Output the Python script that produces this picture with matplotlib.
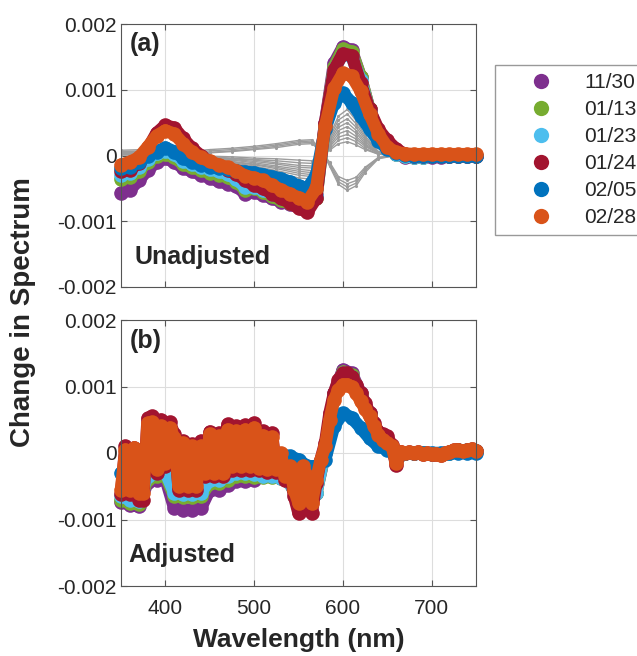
import numpy as np
import matplotlib
matplotlib.use("Agg")
import matplotlib.pyplot as plt
from matplotlib.lines import Line2D

plt.rcParams['font.family'] = ['Liberation Sans', 'DejaVu Sans']

# ---------------- data (values in units of 1e-4) ----------------
labels = ["11/30", "01/13", "01/23", "01/24", "02/05", "02/28"]
colors = ["#7E2F8E", "#77AC30", "#4DBEEE", "#A2142F", "#0072BD", "#D95319"]

# Panel (a) : 10-nm grid 350..750
wl_a = np.arange(350, 751, 10)
a_1130 = [-5.7, -5.2, -3.8, -2.2, -1.0, -0.4, -1.0, -1.9, -2.4, -2.9, -3.4, -3.9, -4.3, -4.7, -5.8, -5.6,
          -6.0, -6.5, -7.0, -7.4, -7.8, -8.0, -6.0, 5.0, 14.0, 16.5, 16.0, 12.0, 7.0, 3.5, 1.5, 0.3,
          -0.2, -0.3, -0.3, -0.2, -0.2, -0.1, -0.1, 0.0, 0.0]
a_0113 = [-3.6, -3.3, -2.3, -1.0, 0.0, 0.2, -0.3, -1.3, -1.8, -2.2, -2.6, -2.9, -3.3, -4.0, -5.2, -5.0,
          -5.5, -6.2, -6.8, -7.3, -7.6, -7.8, -6.5, 4.5, 13.5, 16.2, 15.8, 12.0, 7.0, 3.5, 1.5, 0.3,
          -0.1, -0.2, -0.2, -0.1, -0.1, 0.0, 0.0, 0.0, 0.0]
a_0123 = [-2.9, -2.6, -1.7, -0.5, 0.4, 0.7, 0.2, -0.8, -1.3, -1.7, -2.1, -2.4, -2.8, -3.6, -4.8, -4.8,
          -5.2, -5.8, -6.4, -6.9, -7.2, -7.4, -6.2, 4.5, 13.0, 15.5, 15.0, 11.5, 6.8, 3.4, 1.5, 0.3,
          -0.1, -0.2, -0.2, -0.1, -0.1, 0.0, 0.0, 0.0, 0.0]
a_0124 = [-2.4, -2.2, -1.1, 1.0, 3.4, 4.6, 4.2, 2.6, 1.1, 0.0, -1.0, -1.6, -2.2, -2.8, -3.8, -4.5,
          -5.0, -5.8, -6.5, -7.2, -8.0, -8.6, -6.5, 5.0, 13.0, 15.5, 15.2, 11.0, 7.0, 4.0, 2.3, 1.0,
          0.2, 0.0, 0.0, 0.0, 0.0, 0.0, 0.0, 0.0, 0.0]
a_0205 = [-1.9, -1.7, -1.0, 0.0, 0.6, 1.2, 0.6, -0.4, -1.0, -1.4, -1.7, -1.9, -2.1, -2.3, -2.5, -2.6,
          -2.9, -3.2, -3.5, -4.0, -4.6, -5.0, -3.0, 4.0, 8.0, 9.5, 8.0, 6.0, 4.0, 2.2, 1.0, 0.4,
          0.1, 0.0, 0.0, 0.0, 0.0, 0.0, 0.0, 0.0, 0.0]
a_0228 = [-1.4, -1.0, -0.3, 1.3, 3.0, 3.8, 3.3, 1.8, 0.5, -0.3, -0.9, -1.4, -1.8, -2.3, -3.1, -3.4,
          -3.8, -4.5, -5.2, -5.8, -6.4, -7.0, -5.0, 4.5, 10.2, 12.5, 12.1, 9.8, 6.3, 3.3, 1.3, 0.5,
          0.3, 0.2, 0.2, 0.2, 0.2, 0.2, 0.2, 0.2, 0.2]
series_a = [a_1130, a_0113, a_0123, a_0124, a_0205, a_0228]

# Grey background spectra in panel (a)
wl_g = [350, 375, 400, 425, 450, 475, 500, 525, 550, 565, 575, 585, 595, 605, 615, 625, 640, 660, 700, 750]
g1 = [0.8, 0.9, -0.4, 0.6, 0.9, 1.1, 1.4, 1.8, 2.3, 2.4, 1.0, -1.6, -4.4, -5.3, -4.6, -2.6, -0.5, 0.0, 0.0, 0.0]
g2 = [0.6, 0.7, -0.5, 0.4, 0.7, 0.9, 1.2, 1.6, 2.1, 2.2, 0.9, -1.4, -4.0, -4.8, -4.2, -2.3, -0.4, 0.0, 0.0, 0.0]
g3 = [0.5, 0.6, -0.6, 0.3, 0.5, 0.7, 1.0, 1.4, 1.9, 2.0, 0.8, -1.2, -3.6, -4.3, -3.8, -2.0, -0.3, 0.0, 0.0, 0.0]
g4 = [0.4, 0.5, -0.7, 0.2, 0.4, 0.6, 0.9, 1.2, 1.7, 1.8, 0.7, -1.0, -3.2, -3.8, -3.3, -1.8, -0.3, 0.0, 0.0, 0.0]
h1 = [0.4, 0.3, -1.2, -0.6, -0.8, -1.2, -1.8, -2.6, -3.4, -3.6, -1.0, 3.0, 6.0, 7.0, 5.3, 3.0, 0.6, 0.0, 0.0, 0.0]
h2 = [0.4, 0.3, -1.1, -0.5, -0.7, -1.1, -1.6, -2.3, -3.0, -3.2, -0.8, 2.7, 5.4, 6.3, 4.8, 2.7, 0.5, 0.0, 0.0, 0.0]
h3 = [0.3, 0.2, -1.0, -0.5, -0.6, -1.0, -1.4, -2.0, -2.7, -2.9, -0.7, 2.4, 4.8, 5.6, 4.3, 2.4, 0.5, 0.0, 0.0, 0.0]
h4 = [0.3, 0.2, -0.9, -0.4, -0.5, -0.9, -1.3, -1.8, -2.4, -2.6, -0.6, 2.1, 4.3, 5.0, 3.8, 2.1, 0.4, 0.0, 0.0, 0.0]
h5 = [0.3, 0.2, -0.8, -0.4, -0.4, -0.7, -1.1, -1.6, -2.1, -2.3, -0.5, 1.8, 3.8, 4.4, 3.4, 1.8, 0.4, 0.0, 0.0, 0.0]
h6 = [0.2, 0.1, -0.7, -0.3, -0.3, -0.6, -0.9, -1.3, -1.8, -1.9, -0.4, 1.5, 3.3, 3.8, 2.9, 1.6, 0.3, 0.0, 0.0, 0.0]
h7 = [0.2, 0.1, -0.6, -0.3, -0.3, -0.5, -0.7, -1.1, -1.5, -1.6, -0.3, 1.3, 2.8, 3.2, 2.5, 1.4, 0.3, 0.0, 0.0, 0.0]
h8 = [0.1, 0.1, -0.5, -0.2, -0.2, -0.4, -0.6, -0.8, -1.1, -1.2, -0.2, 1.0, 2.3, 2.7, 2.1, 1.1, 0.2, 0.0, 0.0, 0.0]
h9 = [0.1, 0.0, -0.4, -0.2, -0.1, -0.2, -0.4, -0.5, -0.7, -0.8, -0.1, 0.8, 1.8, 2.1, 1.6, 0.9, 0.2, 0.0, 0.0, 0.0]
grey_lines = [g1, g2, g3, g4, h1, h2, h3, h4, h5, h6, h7, h8, h9]

# Panel (b)
wl_b10 = np.arange(350, 751, 10)
wl_b5 = np.arange(350, 751, 5)
b_1130 = [-7.3, -7.8, -8.0, -4.4, -4.0, -3.8, -8.3, -8.5, -8.5, -8.3, -5.5, -5.5, -4.8, -4.2, -4.2, -4.0,
          -3.4, -3.4, -3.8, -4.5, -7.0, -5.0, -6.0, 0.0, 9.0, 12.5, 12.0, 9.0, 6.0, 3.0, 1.8, -1.0,
          0.0, 0.0, 0.0, -0.2, -0.2, 0.0, 0.4, 0.4, 0.3]
b_0113 = [-7.0, -7.5, -7.7, -3.9, -3.5, -3.3, -6.5, -6.6, -6.6, -6.5, -4.5, -4.5, -4.0, -3.5, -3.5, -3.6,
          -3.6, -3.6, -3.8, -4.5, -7.0, -5.0, -6.0, 0.2, 8.8, 12.2, 11.7, 8.8, 5.8, 3.0, 1.8, -1.0,
          0.0, 0.0, 0.0, -0.2, -0.2, 0.0, 0.4, 0.4, 0.3]
b_0123 = [-6.5, -7.0, -7.2, -3.4, -3.0, -2.8, -6.0, -6.1, -6.1, -6.0, -4.0, -4.0, -3.5, -3.0, -3.0, -3.2,
          -3.4, -3.4, -3.8, -4.5, -7.0, -5.0, -6.0, 0.3, 8.6, 12.0, 11.5, 8.6, 5.7, 2.9, 1.7, -1.0,
          0.0, 0.0, 0.0, -0.2, -0.2, 0.0, 0.4, 0.4, 0.3]
b_0205 = [-3.0, -3.5, -4.5, 1.5, 1.0, 0.0, 0.0, -1.5, -1.5, -1.0, -0.5, 0.0, 0.0, 0.0, -0.5, -0.5,
          -0.5, -0.2, -0.2, -0.5, -1.0, -2.0, -2.0, -1.0, 4.0, 6.0, 5.3, 3.8, 2.2, 1.0, 0.5, 0.0,
          0.0, 0.0, 0.0, 0.0, 0.0, 0.0, 0.0, 0.0, 0.0]
b_0124 = [-6.2, 1.0, -6.2, 0.8, -7.0, -7.0, 5.2, 5.5, -3.0, 5.0, -2.0, 4.6, 2.8, -5.5, 1.8, -5.5,
          1.3, -5.5, 1.8, -3.5, 3.2, -3.5, 3.0, -3.5, 4.3, -2.5, 4.0, -2.5, 4.2, -2.5, 4.5, -2.6,
          3.3, -2.8, 3.0, -2.8, -0.5, -4.0, -2.5, -6.5, -9.0, -2.5, -4.0, -9.0, -4.5, -1.0, 1.5, 6.0,
          9.0, 11.0, 12.0, 12.0, 11.5, 10.2, 9.0, 7.5, 6.0, 4.5, 3.2, 2.8, 2.5, 1.2, -1.8, 0.2,
          0.0, 0.1, 0.0, 0.1, -0.1, 0.0, -0.2, -0.1, -0.3, 0.0, 0.2, 0.4, 0.5, 0.3, 0.4, 0.6, 0.3]
b_0228 = [-5.5, 0.5, -5.5, 0.8, -6.0, -6.0, 4.5, 4.6, -2.4, 4.0, -1.5, 3.8, 2.3, -5.0, 1.5, -5.0,
          1.0, -5.0, 1.0, -3.0, 2.8, -3.0, 2.5, -3.0, 3.5, -2.0, 3.3, -2.0, 3.5, -2.0, 3.8, -2.2,
          2.6, -2.4, 2.4, -2.4, 0.0, -3.5, -2.0, -5.5, -7.5, -2.0, -3.5, -7.5, -4.0, -1.0, 1.0, 5.0,
          8.0, 9.5, 10.3, 10.3, 10.0, 9.0, 7.8, 6.6, 5.5, 4.0, 2.7, 2.0, 1.5, 1.0, -1.5, 0.2,
          0.0, 0.1, 0.0, 0.1, -0.1, 0.0, -0.2, -0.1, -0.3, 0.0, 0.2, 0.4, 0.5, 0.3, 0.4, 0.6, 0.3]
series_b = [(wl_b10, b_1130), (wl_b10, b_0113), (wl_b10, b_0123),
            (wl_b5, b_0124), (wl_b10, b_0205), (wl_b5, b_0228)]

yticks = [-0.002, -0.001, 0, 0.001, 0.002]
ytick_labels = ["-0.002", "-0.001", "0", "0.001", "0.002"]
xticks = [400, 500, 600, 700]
SCALE = 1e-4

# ---------------- figure ----------------
W, H = 637, 656
fig = plt.figure(figsize=(W / 100, H / 100), dpi=100)

def fx(px):
    return px / W

def fy(py):
    return 1 - py / H

ax_a = fig.add_axes([fx(121), fy(287), fx(476) - fx(121), fy(24) - fy(287)])
ax_b = fig.add_axes([fx(121), fy(586), fx(476) - fx(121), fy(320) - fy(586)])

MS = 10.5
LW = 9

for gl in grey_lines:
    ax_a.plot(wl_g, np.array(gl) * SCALE, color="#9c9c9c", lw=1.0, marker='.', ms=2.5, zorder=2)

for i, (vals, c) in enumerate(zip(series_a, colors)):
    ax_a.plot(wl_a, np.array(vals) * SCALE, color=c, lw=LW, marker='o', ms=MS, mew=0,
              solid_capstyle='round', solid_joinstyle='round', clip_on=False, zorder=3 + i)

for i, ((wl, vals), c) in enumerate(zip(series_b, colors)):
    ax_b.plot(wl, np.array(vals) * SCALE, color=c, lw=LW, marker='o', ms=MS, mew=0,
              solid_capstyle='round', solid_joinstyle='round', clip_on=False, zorder=3 + i)

for ax in (ax_a, ax_b):
    ax.set_xlim(350, 750)
    ax.set_ylim(-0.002, 0.002)
    ax.set_yticks(yticks)
    ax.set_yticklabels(ytick_labels)
    ax.set_xticks(xticks)
    ax.grid(True, color="#dddddd", lw=0.8)
    ax.set_axisbelow(True)
    ax.tick_params(direction='in', top=True, right=True, length=4, width=0.8,
                   color="#555555", labelcolor="#262626", labelsize=15)
    ax.tick_params(axis='y', pad=3)
    ax.tick_params(axis='x', pad=9)
    for s in ax.spines.values():
        s.set_color("#555555")
        s.set_linewidth(0.8)
        s.set_zorder(20)

ax_a.tick_params(labelbottom=False)

# texts
fig.text(fx(130), fy(44), "(a)", fontsize=18, fontweight='bold', color="#262626", ha='left', va='center')
fig.text(fx(134), fy(257), "Unadjusted", fontsize=18, fontweight='bold', color="#262626", ha='left', va='center')
fig.text(fx(130), fy(341), "(b)", fontsize=18, fontweight='bold', color="#262626", ha='left', va='center')
fig.text(fx(128), fy(555), "Adjusted", fontsize=18, fontweight='bold', color="#262626", ha='left', va='center')
fig.text(fx(298.5), fy(640), "Wavelength (nm)", fontsize=19, fontweight='bold', color="#262626",
         ha='center', va='center')
fig.text(fx(23), fy(312), "Change in Spectrum", fontsize=20, fontweight='bold', color="#262626",
         ha='center', va='center', rotation=90)

# legend
handles = [Line2D([], [], ls='none', marker='o', ms=11, mew=0, color=c) for c in colors]
leg = fig.legend(handles, labels, loc='upper left', bbox_to_anchor=(fx(495), fy(65)),
                 bbox_transform=fig.transFigure, frameon=True, fancybox=False,
                 fontsize=15, borderpad=0.4, labelspacing=0.38, handlelength=3.6,
                 handletextpad=0.3, borderaxespad=0)
leg.get_frame().set_edgecolor("#808080")
leg.get_frame().set_linewidth(1.0)
for t in leg.get_texts():
    t.set_color("#262626")

fig.savefig("out.png", dpi=100)
